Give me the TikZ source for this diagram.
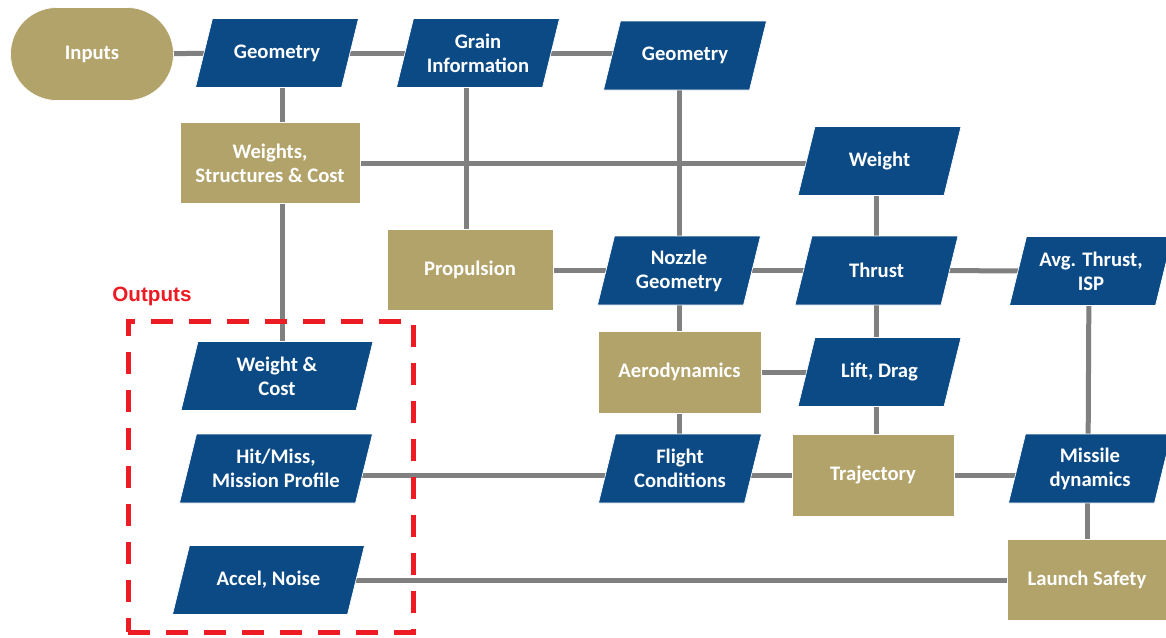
\documentclass[tikz,border=0pt]{standalone}
\usepackage{fontspec}
\setmainfont{Carlito}
\newfontfamily\arialfont{Liberation Sans}
\usetikzlibrary{backgrounds,calc}
\definecolor{nblue}{RGB}{11,74,133}
\definecolor{ngold}{RGB}{178,163,107}
\definecolor{ngrey}{RGB}{128,128,128}
\definecolor{nred}{RGB}{237,28,36}
% data node: [total width in px]{name}{x,y}{text}
\newcommand\datanode[4][163]{%
  \fill[datafill] ($(#3)+(-#1/2,34.5)$) -- ++(#1-17,0) -- ++(17,-69) -- ++(-#1+17,0) -- cycle;
  \node[lbl,minimum width=#1*0.75pt-12.75pt,minimum height=51.75pt] (#2) at (#3) {#4};}
\begin{document}
\begin{tikzpicture}[x=0.75pt,y=-0.75pt,
  lbl/.style={text=white,font=\bfseries\fontsize{15.5}{18}\selectfont,align=center,inner sep=0pt},
  goldbox/.style={lbl,rectangle,fill=ngold,draw=white,line width=0.5pt},
  datafill/.style={fill=nblue,draw=white,line width=0.5pt},
  conn/.style={draw=ngrey,line width=3.75pt}]
\useasboundingbox (0,0) rectangle (1166,637);
% gold process boxes
\node[goldbox,rounded corners=34.8pt,minimum width=122.25pt,minimum height=69.75pt] (inputs) at (92,54) {Inputs};
\node[goldbox,minimum width=135pt,minimum height=60.75pt] (wsc) at (270,163) {Weights,\\Structures \& Cost};
\node[goldbox,minimum width=124.5pt,minimum height=60.75pt] (prop) at (470,270) {Propulsion};
\node[goldbox,minimum width=122.25pt,minimum height=61.5pt] (aero) at (679.5,372) {Aerodynamics};
\node[goldbox,minimum width=121.5pt,minimum height=61.5pt] (traj) at (873,475) {Trajectory};
\node[goldbox,minimum width=120pt,minimum height=60.75pt] (launch) at (1087,580) {Launch Safety};
% blue data parallelograms
\datanode{geo1}{277,53}{Geometry}
\datanode{grain}{478,53}{Grain\\Information}
\datanode{geo2}{685,55.5}{Geometry}
\datanode{weight}{879.5,161}{Weight}
\datanode{nozzle}{679,270.5}{Nozzle\\Geometry}
\datanode{thrust}{876.5,270.5}{Thrust}
\datanode{avg}{1091,271}{Avg. Thrust,\\ISP}
\datanode{lift}{879.5,372}{Lift, Drag}
\datanode{flight}{680,468.5}{Flight\\Conditions}
\datanode{missile}{1090,468.5}{Missile\\dynamics}
\datanode[192]{wc}{277,376}{Weight \&\\Cost}
\datanode[193]{hit}{276,468.5}{Hit/Miss,\\Mission Profile}
\datanode[192]{accel}{268.5,580}{Accel, Noise}
% connectors
\begin{scope}[on background layer]
\draw[conn] (inputs.center) -- (geo1.center);
\draw[conn] (geo1.center) -- (grain.center);
\draw[conn] (grain.center) -- (grain.center -| geo2.center);
\draw[conn] ($(geo1.center)+(5,0)$) -- ($(wsc.center -| geo1.center)+(5,0)$);
\draw[conn] ($(wsc.center -| geo1.center)+(5,0)$) -- ($(wc.center)+(5,0)$);
\draw[conn] (wsc.center) -- (wsc.center -| weight.center);
\draw[conn] ($(prop.center |- grain.center)+(-4,0)$) -- ($(prop.center)+(-4,0)$);
\draw[conn] (geo2.center -| nozzle.center) -- (nozzle.center);
\draw[conn] (nozzle.center) -- (aero.center -| nozzle.center);
\draw[conn] (aero.center -| nozzle.center) -- (flight.center -| nozzle.center);
\draw[conn] (prop.center) -- (nozzle.center |- prop.center);
\draw[conn] (nozzle.center |- prop.center) -- (thrust.center |- prop.center);
\draw[conn] (thrust.center) -- (avg.center);
\draw[conn] (thrust.center |- weight.center) -- (thrust.center);
\draw[conn] (thrust.center) -- (thrust.center |- lift.center);
\draw[conn] (thrust.center |- lift.center) -- (thrust.center |- traj.center);
\draw[conn] (aero.center) -- (lift.center);
\draw[conn] ($(avg.center)+(-2,0)$) -- ($(missile.center)+(-2,0)$);
\draw[conn] ($(missile.center)+(-2,0)$) -- (launch.center |- missile.center);
\draw[conn] (launch.center |- missile.center) -- (launch.center);
\draw[conn] (hit.center |- traj.center) -- (flight.center |- traj.center);
\draw[conn] (flight.center |- traj.center) -- (traj.center);
\draw[conn] (traj.center) -- (traj.center -| missile.center);
\draw[conn] (accel.center) -- (launch.center);
\end{scope}
% outputs group
\node[text=nred,font=\arialfont\bfseries\fontsize{15.5}{18}\selectfont,inner sep=0pt] (outlbl) at (152,296) {Outputs};
\node[draw=nred,line width=3.75pt,dash pattern=on 16.5pt off 12pt,minimum width=213.75pt,minimum height=233.25pt,inner sep=0pt] (outbox) at (270.5,476.5) {};
\end{tikzpicture}
\end{document}
